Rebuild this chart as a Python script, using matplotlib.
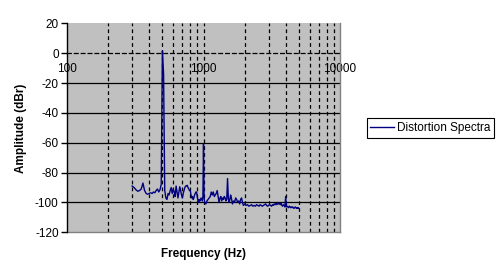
import matplotlib
matplotlib.use("Agg")
import matplotlib.pyplot as plt
from matplotlib.ticker import NullFormatter, FixedLocator

plt.rcParams['font.family'] = ['Liberation Sans', 'DejaVu Sans']

series_name = "Distortion Spectra"
x_label = "Frequency (Hz)"
y_label = "Amplitude (dBr)"

xtick_values = [100, 1000, 10000]
xtick_labels = ["100", "1000", "10000"]
ytick_values = [-120, -100, -80, -60, -40, -20, 0, 20]
ytick_labels = ["-120", "-100", "-80", "-60", "-40", "-20", "0", "20"]

freq_hz = [300, 310, 320, 330, 340, 350, 360, 370, 380, 390,
           400, 410, 420, 430, 440, 450, 460, 470, 480, 490,
           500, 510,
           520, 530, 540, 550, 560, 570, 580, 590,
           600, 610, 620, 630, 640, 650, 660, 670, 680, 690,
           700, 710, 720, 730, 740, 750, 760, 770, 780, 790,
           800, 810, 820, 830, 840, 850, 860, 870, 880, 890,
           900, 910, 920, 930, 940, 950, 960, 970, 980, 990,
           1000,
           1010, 1020,
           1040, 1060, 1080, 1100, 1120, 1140, 1160, 1180, 1200, 1220,
           1240, 1260, 1280, 1300, 1320, 1340, 1360, 1380, 1400, 1420,
           1440, 1460, 1480, 1500, 1520, 1540, 1560, 1580, 1600,
           1630, 1660, 1690, 1720, 1750, 1780, 1810, 1840, 1870, 1900, 1930, 1960,
           2000, 2050, 2100, 2150, 2200, 2250, 2300, 2350, 2400, 2450,
           2500, 2550, 2600, 2650, 2700, 2750, 2800, 2850, 2900, 2950,
           3000, 3050, 3100, 3150, 3200, 3250, 3300, 3350, 3400, 3450,
           3500, 3550, 3600, 3650, 3700, 3750, 3800, 3850, 3900, 3950,
           4000, 4050, 4100, 4150, 4200, 4250, 4300, 4350, 4400, 4450,
           4500, 4550, 4600, 4650, 4700, 4750, 4800, 4850, 4900, 4950, 5000]

amplitude_dbr = [-89, -90, -91.5, -92.5, -92, -91, -87, -92, -94, -94.5,
                 -94, -93.5, -94, -93, -93.5, -92, -91, -93, -91.5, -88,
                 1.5, -14,
                 -92, -97, -98, -94, -95, -92, -90, -94,
                 -91, -93, -96, -89, -93, -97, -93, -89.5, -92, -95,
                 -97, -94, -92, -90, -89, -89, -88.5, -90, -91, -92,
                 -92, -95, -97, -96, -98, -97, -95, -94, -93, -93,
                 -96, -99, -100, -98, -99, -98, -97, -98, -99, -96,
                 -61,
                 -97, -100,
                 -101, -99, -98, -97, -96, -93, -95, -93, -96, -95,
                 -94, -92, -96, -100, -97, -96, -99, -97, -98, -96,
                 -97, -99, -98, -84, -97, -100, -98, -95, -97,
                 -101, -99, -100, -97, -98, -100, -99, -101, -98, -97, -100, -102,
                 -101, -102, -101.5, -102.5, -102, -101.5, -102.5, -102, -102.5, -101.5,
                 -102, -102.5, -101.5, -102, -102.5, -102, -101.5, -101, -102, -102.5,
                 -102, -101.5, -102, -102.5, -101.5, -102, -101, -101.5, -100.5, -101.5,
                 -100, -101, -100.5, -101.5, -100.5, -102, -102.5, -101.5, -102, -103,
                 -96, -103, -102.5, -103, -103.5, -102.5, -103, -103.5, -103, -103.5,
                 -103, -103.5, -104, -103.5, -103, -103.5, -104, -103.5, -104, -103.5, -104]

vgrid = [200, 300, 400, 500, 600, 700, 800, 900, 1000,
         2000, 3000, 4000, 5000, 6000, 7000, 8000, 9000]
hgrid = [-20, -40, -60, -80, -100]

FS = 8.5

fig = plt.figure(figsize=(5, 2.7), dpi=100)
ax = fig.add_axes([0.134, 0.1396, 0.546, 0.7741])
ax.set_facecolor('#C0C0C0')
ax.set_xscale('log')
ax.set_xlim(100, 10000)
ax.set_ylim(-120, 20)

dash = (0, (3, 2.5))
for v in vgrid:
    ax.axvline(v, color='black', lw=0.9, linestyle=dash, zorder=1)
for h in hgrid:
    ax.axhline(h, color='black', lw=0.9, zorder=1)

ax.plot(freq_hz, amplitude_dbr, color='#000080', lw=1.0, zorder=3, label=series_name)

# spines
ax.spines['top'].set_visible(False)
ax.spines['right'].set_color('#808080')
ax.spines['right'].set_linewidth(1)
ax.spines['left'].set_color('black')
ax.spines['left'].set_linewidth(1)
ax.spines['bottom'].set_position(('data', 0))
ax.spines['bottom'].set_linestyle(dash)
ax.spines['bottom'].set_linewidth(0.9)
ax.spines['bottom'].set_zorder(2)
ax.axhline(-120, color='#808080', lw=1, zorder=2, clip_on=False)

ax.set_xticks(xtick_values, labels=xtick_labels)
ax.xaxis.set_minor_locator(FixedLocator([]))
ax.xaxis.set_minor_formatter(NullFormatter())
ax.tick_params(axis='x', which='both', length=0, pad=7, labelsize=FS)
ax.set_yticks(ytick_values, labels=ytick_labels)
ax.tick_params(axis='y', direction='out', length=4, width=1, pad=2, labelsize=FS)

fig.text(0.042, 0.526, y_label, rotation=90, ha='center', va='center',
         fontsize=FS, fontweight='bold')
fig.text(0.407, 0.059, x_label, ha='center', va='center',
         fontsize=FS, fontweight='bold')

leg = fig.legend(loc='center', bbox_to_anchor=(0.861, 0.526), fontsize=FS,
                 fancybox=False, edgecolor='black', framealpha=1,
                 handlelength=2.0, handletextpad=0.3, borderpad=0.3,
                 borderaxespad=0)
leg.get_frame().set_linewidth(0.8)

fig.savefig('out.png', dpi=100)
